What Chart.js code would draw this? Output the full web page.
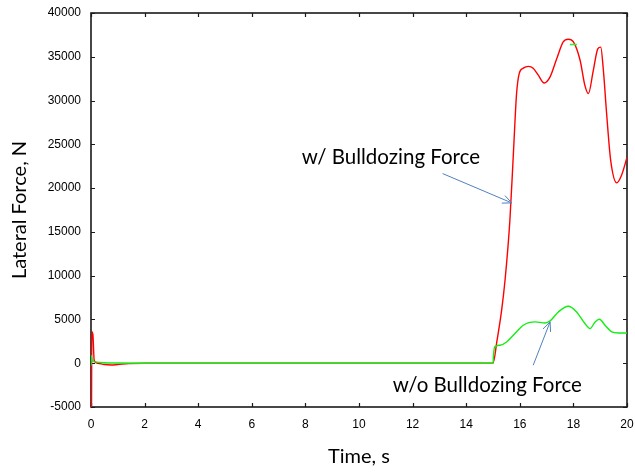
<!DOCTYPE html>
<html>
<head>
<meta charset="utf-8">
<script src="https://cdn.jsdelivr.net/npm/chart.js@4/dist/chart.umd.min.js"></script>
<style>
  html, body { margin: 0; padding: 0; background: #fff; }
  #wrap { width: 635px; height: 473px; }
</style>
</head>
<body>
<div id="wrap"><canvas id="c" width="635" height="473"></canvas></div>
<script>
// Lateral force history, with and without the bulldozing force term
const timeWith = [0.02, 0.03, 0.07, 0.12, 0.25, 0.5, 0.75, 1.0, 1.4, 2, 3, 4, 6, 8, 10, 12, 14, 15,
  15.15, 15.32, 15.45, 15.63, 15.76, 15.88, 15.98, 16.13, 16.32, 16.5, 16.69, 16.91, 17.13, 17.38,
  17.62, 17.81, 18.0, 18.25, 18.43, 18.56, 18.74, 18.91, 19.02, 19.12, 19.24, 19.39, 19.62, 19.8, 20];
const forceWith = [-5000, 3600, 3300, 300, 0, -150, -200, -150, -50, 0, 0, 0, 0, 0, 0, 0, 0, 0,
  2600, 6000, 9500, 16300, 23900, 30800, 33100, 33700, 33900, 33700, 32900, 32000, 32700, 34800,
  36700, 37000, 36700, 34600, 31700, 30800, 33400, 35900, 36100, 33400, 28500, 23200, 20600, 21500, 23500];

const timeWithout = [0, 0.01, 0.05, 0.15, 0.5, 1, 2, 3, 4, 6, 8, 10, 12, 14, 15,
  15.02, 15.07, 15.26, 15.51, 15.82, 16.13, 16.57, 16.94, 17.13, 17.44, 17.81, 18.12, 18.43,
  18.62, 18.81, 18.97, 19.18, 19.43, 19.68, 19.93, 20];
const forceWithout = [-300, 900, 300, 150, 50, 20, 0, 0, 0, 0, 0, 0, 0, 0, 0,
  1000, 1900, 2060, 2430, 3390, 4340, 4720, 4600, 4830, 5860, 6510, 5860, 4530,
  3960, 4720, 5020, 4340, 3580, 3460, 3460, 3460];

// short stray segment near the 18 s peak
const timeStray = [17.87, 18.13];
const forceStray = [36400, 36400];

const xTicks = [0, 2, 4, 6, 8, 10, 12, 14, 16, 18, 20];
const yTicks = [-5000, 0, 5000, 10000, 15000, 20000, 25000, 30000, 35000, 40000];
const xTickLabels = ['0', '2', '4', '6', '8', '10', '12', '14', '16', '18', '20'];
const yTickLabels = ['-5000', '0', '5000', '10000', '15000', '20000', '25000', '30000', '35000', '40000'];

const labelWith = 'w/ Bulldozing Force';
const labelWithout = 'w/o Bulldozing Force';

const pts = (xs, ys) => xs.map((x, i) => ({ x: x, y: ys[i] }));

const ANNOT_FONT = '20.5px Lato, "Open Sans", sans-serif';
const ARROW_COLOR = '#4f81bd';

function arrow(ctx, x1, y1, x2, y2) {
  const ang = Math.atan2(y2 - y1, x2 - x1);
  const len = 10, spread = 0.42;
  ctx.beginPath();
  ctx.moveTo(x1, y1);
  ctx.lineTo(x2, y2);
  ctx.moveTo(x2 - len * Math.cos(ang - spread), y2 - len * Math.sin(ang - spread));
  ctx.lineTo(x2, y2);
  ctx.lineTo(x2 - len * Math.cos(ang + spread), y2 - len * Math.sin(ang + spread));
  ctx.stroke();
}

const framePlugin = {
  id: 'frameAndNotes',
  beforeDatasetsDraw(chart) {
    const { ctx, chartArea: a, scales: { x, y } } = chart;
    ctx.save();
    // frame
    ctx.strokeStyle = '#1a1a1a';
    ctx.lineWidth = 1.6;
    ctx.strokeRect(a.left, a.top, a.right - a.left, a.bottom - a.top);
    // inward ticks on all four sides
    ctx.lineWidth = 1.2;
    ctx.beginPath();
    const tl = 4;
    xTicks.forEach(v => {
      const px = Math.round(x.getPixelForValue(v)) + 0.5;
      ctx.moveTo(px, a.bottom); ctx.lineTo(px, a.bottom - tl);
      ctx.moveTo(px, a.top); ctx.lineTo(px, a.top + tl);
    });
    yTicks.forEach(v => {
      const py = Math.round(y.getPixelForValue(v)) + 0.5;
      ctx.moveTo(a.left, py); ctx.lineTo(a.left + tl, py);
      ctx.moveTo(a.right, py); ctx.lineTo(a.right - tl, py);
    });
    ctx.stroke();
    ctx.restore();
  },
  afterDraw(chart) {
    const { ctx, scales: { x, y } } = chart;
    ctx.save();
    ctx.fillStyle = '#000';
    ctx.font = ANNOT_FONT;
    ctx.textBaseline = 'alphabetic';
    ctx.textAlign = 'left';
    ctx.fillText(labelWith, x.getPixelForValue(7.86), y.getPixelForValue(22800));
    ctx.fillText(labelWithout, x.getPixelForValue(11.26), y.getPixelForValue(-3280));

    ctx.strokeStyle = ARROW_COLOR;
    ctx.lineWidth = 1;
    arrow(ctx, x.getPixelForValue(13.12), y.getPixelForValue(21660),
               x.getPixelForValue(15.70), y.getPixelForValue(18310));
    arrow(ctx, x.getPixelForValue(16.50), y.getPixelForValue(-230),
               x.getPixelForValue(17.13), y.getPixelForValue(4720));
    ctx.restore();
  }
};

new Chart(document.getElementById('c'), {
  type: 'scatter',
  data: {
    datasets: [
      {
        label: labelWithout,
        data: pts(timeWithout, forceWithout),
        showLine: true, borderColor: '#11ee11', borderWidth: 1.4,
        pointRadius: 0, cubicInterpolationMode: 'monotone', order: 1
      },
      {
        label: 'stray',
        data: pts(timeStray, forceStray),
        showLine: true, borderColor: '#33ee33', borderWidth: 1.6,
        pointRadius: 0, order: 0
      },
      {
        label: labelWith,
        data: pts(timeWith, forceWith),
        showLine: true, borderColor: '#ff0000', borderWidth: 1.4,
        pointRadius: 0, cubicInterpolationMode: 'monotone', order: 2
      }
    ]
  },
  options: {
    responsive: false,
    animation: false,
    events: [],
    layout: { padding: { left: 0, top: 13, right: 8, bottom: 0 } },
    plugins: { legend: { display: false }, tooltip: { enabled: false } },
    scales: {
      x: {
        type: 'linear', min: 0, max: 20,
        afterBuildTicks: s => { s.ticks = xTicks.map(v => ({ value: v })); },
        afterFit: s => { s.height = 66; s.paddingLeft = 0; s.paddingRight = 0; },
        grid: { display: false, drawTicks: false }, border: { display: false },
        ticks: {
          padding: 10, color: '#000', maxRotation: 0,
          font: { family: '"Liberation Sans", Arial, sans-serif', size: 12 },
          callback: v => xTickLabels[xTicks.indexOf(v)]
        },
        title: {
          display: true, text: 'Time, s', color: '#000',
          font: { family: 'Lato, "Open Sans", sans-serif', size: 20 },
          padding: { top: 0, bottom: 4 }
        }
      },
      y: {
        type: 'linear', min: -5000, max: 40000,
        afterBuildTicks: s => { s.ticks = yTicks.map(v => ({ value: v })); },
        afterFit: s => { s.width = 91; s.paddingTop = 0; s.paddingBottom = 0; },
        grid: { display: false, drawTicks: false }, border: { display: false },
        ticks: {
          padding: 10, color: '#000',
          font: { family: '"Liberation Sans", Arial, sans-serif', size: 12 },
          callback: v => yTickLabels[yTicks.indexOf(v)]
        },
        title: {
          display: true, text: 'Lateral Force, N', color: '#000',
          font: { family: 'Lato, "Open Sans", sans-serif', size: 20 },
          padding: { top: 8, bottom: 0 }
        }
      }
    }
  },
  plugins: [framePlugin]
});
</script>
</body>
</html>
